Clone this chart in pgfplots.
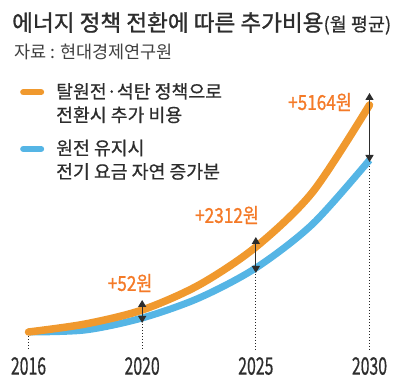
\documentclass[border=0pt]{standalone}
\usepackage{graphicx}
\usepackage{fontspec}
\setmainfont{Noto Sans CJK KR}
\newfontfamily\medfont{Noto Sans CJK KR}[FakeBold=1.2]
\newfontfamily\semifont{Noto Sans CJK KR}[FakeBold=0.6]
\usepackage{pgfplots}
\pgfplotsset{compat=1.18}
\usetikzlibrary{arrows.meta}
\definecolor{lineor}{RGB}{240,153,46}
\definecolor{lineblue}{RGB}{85,181,229}
\definecolor{annor}{RGB}{244,122,40}
\definecolor{darktxt}{RGB}{45,45,45}
\begin{document}
\begin{tikzpicture}
\useasboundingbox (0,0) rectangle (400pt,386pt);
% title and source
\node[anchor=base west, inner sep=0pt, text=darktxt] at (12pt,355pt)
  {\medfont\fontsize{22.6}{22.6}\selectfont 에너지 정책 전환에 따른 추가비용{\semifont\fontsize{18.5}{18.5}\selectfont(월 평균)}};
\node[anchor=base west, inner sep=0pt, text=black!75] at (14pt,327pt)
  {\fontsize{17.5}{17.5}\selectfont 자료 : 현대경제연구원};
\begin{axis}[
  at={(28.5pt,36pt)}, anchor=south west,
  scale only axis, width=341pt, height=300pt,
  xmin=0, xmax=3, ymin=0, ymax=300,
  clip=false,
  axis line style={draw=none}, tick style={draw=none},
  ytick=\empty,
  xtick={0,1,2,3},
  xticklabels={\scalebox{0.66}[1]{2016},\scalebox{0.66}[1]{2020},\scalebox{0.66}[1]{2025},\scalebox{0.66}[1]{2030}},
  xticklabel style={font=\semifont\fontsize{24}{24}\selectfont, text=darktxt, inner sep=0pt, anchor=north, yshift=-7pt},
  legend style={at={(axis description cs:-0.025,0.897)}, anchor=north west,
    draw=none, fill=none, inner sep=0pt, row sep=36pt, column sep=10pt,
    font=\semifont\fontsize{18.3}{23.5}\selectfont, text=darktxt,
    cells={anchor=base west, inner sep=0pt}},
  legend image code/.code={\draw[line width=6pt, line cap=round] (0pt,6pt)--(18pt,6pt);},
]
% dotted guides
\addplot[forget plot, black!85, line width=1.2pt, dash pattern=on 1pt off 2pt] coordinates {(0,14) (0,0)};
\addplot[forget plot, black!85, line width=1.2pt, dash pattern=on 1pt off 2pt] coordinates {(1,26) (1,0)};
\addplot[forget plot, black!85, line width=1.2pt, dash pattern=on 1pt off 2pt] coordinates {(2,76) (2,0)};
\addplot[forget plot, black!85, line width=1.2pt, dash pattern=on 1pt off 2pt] coordinates {(3,187) (3,0)};
% blue: natural increase
\addplot[forget plot, lineblue, line width=7pt, smooth, no markers] coordinates {
 (0,18) (0.5,20) (1,32) (1.5,52) (2,82) (2.5,126) (3,190)};
% orange: policy change
\addplot[lineor, line width=7.5pt, line cap=round, smooth, no markers] coordinates {
 (0,18) (0.5,26) (1,40) (1.5,65) (2,103) (2.5,158) (3,245)};
\addlegendentry{\parbox[t]{200pt}{탈원전·석탄 정책으로\\전환시 추가 비용}}
\addlegendimage{lineblue}
\addlegendentry{\parbox[t]{200pt}{원전 유지시\\전기 요금 자연 증가분}}
% difference arrows
\addplot[forget plot, darktxt, line width=1.3pt, {Triangle[width=8pt,length=7pt]}-{Triangle[width=8pt,length=7pt]}] coordinates {(1,50) (1,27)};
\addplot[forget plot, darktxt, line width=1.3pt, {Triangle[width=8pt,length=7pt]}-{Triangle[width=8pt,length=7pt]}] coordinates {(2,113) (2,77)};
\addplot[forget plot, darktxt, line width=1.3pt, {Triangle[width=8pt,length=7pt]}-{Triangle[width=8pt,length=7pt]}] coordinates {(3,257) (3,188)};
% labels
\node[text=annor, font=\medfont\fontsize{20.5}{20.5}\selectfont, inner sep=0pt] at (axis cs:0.893,67) {\scalebox{0.84}[1]{+52원}};
\node[text=annor, font=\medfont\fontsize{20.5}{20.5}\selectfont, inner sep=0pt] at (axis cs:1.746,135) {\scalebox{0.84}[1]{+2312원}};
\node[text=annor, font=\medfont\fontsize{20.5}{20.5}\selectfont, inner sep=0pt] at (axis cs:2.564,248) {\scalebox{0.84}[1]{+5164원}};
\end{axis}
\end{tikzpicture}
\end{document}
